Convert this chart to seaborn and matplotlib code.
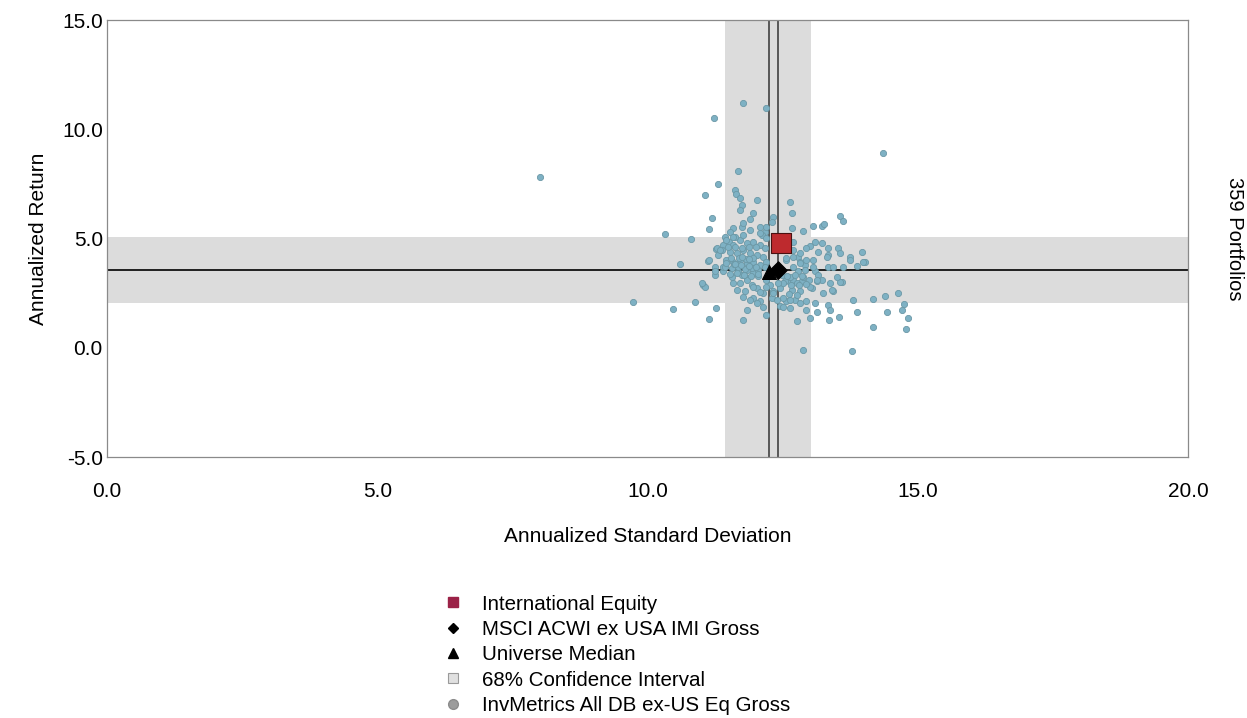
import matplotlib
matplotlib.use("Agg")
import matplotlib.pyplot as plt
from matplotlib.lines import Line2D
import seaborn as sns
import pandas as pd

# Universe of portfolios: annualized standard deviation and return
universe_sd = [
    8.02, 11.23, 11.77, 12.20, 14.35, 11.67, 11.31, 11.62, 11.64, 11.06,
    11.71, 11.74, 12.03, 12.64, 12.67, 11.20, 11.14, 13.56, 13.62, 13.22,
    13.07, 13.27, 10.32, 10.80, 11.26, 10.60, 11.11, 11.25, 11.25, 11.02,
    11.06, 9.74, 10.48, 10.87, 11.27, 11.13, 12.88, 13.78, 11.77, 11.84,
    12.20,
    14.78, 14.82, 14.70, 14.75, 14.64, 14.44, 14.18, 14.17, 13.88, 13.55,
    13.35, 14.39, 13.81, 13.34, 13.01, 13.13, 12.76, 12.64, 12.57, 13.38,
    12.67, 12.88, 13.10, 13.01, 12.94, 13.22, 13.34, 13.34, 13.53, 13.16,
    13.75, 13.96, 14.02, 12.70, 12.79, 12.82, 12.91, 13.07, 13.34, 13.62,
    13.87,
    12.79, 12.91, 13.10, 13.16, 12.61, 12.70, 12.85, 12.98, 13.13, 13.22,
    13.59, 12.67, 12.82, 13.04, 13.44, 12.73, 12.94, 13.10,
    13.56, 13.75, 13.99, 13.56, 13.41,
    11.00, 11.25, 11.40, 11.59, 11.74, 11.84, 11.93, 11.80, 11.96, 12.02,
    12.14, 12.08, 12.27, 12.33, 12.30, 12.45, 12.51, 12.45, 11.68, 11.84,
    11.96, 12.05, 12.20, 12.54,
    11.90, 11.74, 12.08, 12.33, 12.30, 11.59, 11.53, 12.17, 11.43, 11.28,
    11.13,
    11.40, 11.50, 11.59, 11.71, 11.84, 11.96, 12.08, 12.17, 11.53, 11.65,
    11.77, 11.90, 12.02, 12.14, 11.46, 11.59, 11.71, 11.84, 11.96, 12.08,
    12.20, 11.40, 11.56, 11.68, 11.80, 11.93, 12.05, 12.17, 11.30, 11.37,
    11.62, 11.77, 12.11, 12.20,
    11.34, 11.46, 11.59, 11.43, 11.56, 11.71, 11.84, 11.96, 12.08, 12.20,
    11.65, 11.77, 11.90, 12.02, 12.14, 12.51, 12.64, 12.76, 12.88, 13.01,
    12.70, 12.82, 12.57, 12.70, 12.82, 12.94, 13.07, 13.13, 13.25, 13.38,
    13.50, 13.32, 13.44, 12.64, 12.82, 12.94, 12.51, 12.39, 12.33, 12.42,
    12.48, 12.08, 12.20, 11.90, 11.77, 11.71, 11.96,
    12.60, 12.69, 12.56,
    11.49, 11.62, 11.75, 11.88, 12.00, 11.55, 11.69, 11.82, 11.95, 11.45,
    11.60, 11.73, 11.87, 12.00, 11.52, 11.66, 11.79, 11.92, 12.05, 11.62,
    11.75, 11.88, 12.58, 12.72, 12.86, 12.66, 12.80, 12.93, 12.62, 12.76,
]
universe_ret = [
    7.80, 10.50, 11.19, 10.96, 8.93, 8.10, 7.49, 7.22, 7.05, 6.98,
    6.85, 6.53, 6.76, 6.68, 6.15, 5.92, 5.45, 6.03, 5.81, 5.59,
    5.59, 5.65, 5.21, 4.98, 4.52, 3.82, 3.97, 3.68, 3.33, 2.87,
    2.77, 2.11, 1.77, 2.11, 1.80, 1.30, -0.10, -0.13, 1.28, 1.74,
    1.51,
    0.84, 1.35, 1.73, 2.00, 2.52, 1.65, 2.22, 0.94, 1.65, 1.42,
    1.27, 2.35, 2.17, 1.97, 1.36, 1.64, 1.21, 1.82, 2.13, 1.73,
    5.47, 5.36, 4.85, 4.67, 4.55, 4.78, 4.55, 4.24, 4.58, 4.37,
    4.17, 4.40, 3.94, 4.85, 4.17, 3.94, 3.79, 4.02, 3.71, 3.71,
    3.76,
    3.50, 3.57, 3.50, 3.34, 3.04, 3.11, 3.04, 3.11, 3.04, 3.11,
    3.01, 2.66, 2.58, 2.73, 2.58, 2.20, 2.13, 2.05,
    4.32, 4.02, 3.94, 3.02, 2.64,
    2.96, 3.50, 3.50, 2.96, 3.34, 3.19, 2.89, 2.58, 2.28, 2.73,
    2.51, 2.13, 2.89, 2.58, 2.28, 2.73, 2.28, 1.90, 3.50, 3.57,
    3.42, 3.27, 3.11, 3.04,
    5.89, 5.54, 5.54, 6.00, 5.77, 5.47, 5.31, 5.31, 5.08, 4.55,
    4.02,
    4.70, 4.85, 4.70, 4.93, 4.78, 4.85, 4.70, 4.55, 4.40, 4.32,
    4.47, 4.32, 4.24, 4.17, 4.02, 3.94, 4.02, 3.86, 3.94, 3.79,
    3.94, 3.71, 3.64, 3.71, 3.60, 3.64, 3.56, 3.71, 4.24, 4.47,
    5.08, 5.16, 5.16, 5.01,
    4.47, 4.93, 5.08, 3.71, 3.25, 2.95, 3.10, 2.80, 2.57, 2.80,
    2.64, 2.34, 2.19, 2.03, 1.88, 2.95, 3.25, 2.95, 3.25, 2.80,
    3.71, 3.86, 4.02, 4.17, 4.32, 4.02, 3.71, 3.10, 2.49, 2.95,
    3.25, 4.17, 3.71, 2.19, 2.03, 1.73, 1.88, 2.19, 2.49, 2.95,
    3.33, 5.24, 5.54, 5.39, 5.70, 6.30, 6.15,
    5.11, 4.47, 4.11,
    4.60, 4.62, 4.58, 4.63, 4.60, 4.10, 4.12, 4.08, 4.10, 3.88,
    3.85, 3.80, 3.75, 3.68, 3.38, 3.40, 3.35, 3.30, 3.38, 3.85,
    4.15, 4.05, 3.30, 3.35, 3.30, 2.88, 2.85, 2.90, 2.45, 2.40,
]

# Highlighted series
fund_sd, fund_ret = [12.47], [4.79]            # International Equity
index_sd, index_ret = [12.42], [3.58]          # MSCI ACWI ex USA IMI Gross
median_sd, median_ret = [12.25], [3.48]        # Universe Median

# Cross-hair reference lines and 68% confidence bands
vline_sd = [12.24, 12.41]
hline_ret = [3.55]
ci_sd = (11.43, 13.02)
ci_ret = (2.05, 5.07)

x_ticks = [0.0, 5.0, 10.0, 15.0, 20.0]
y_ticks = [-5.0, 0.0, 5.0, 10.0, 15.0]

legend_labels = [
    "International Equity",
    "MSCI ACWI ex USA IMI Gross",
    "Universe Median",
    "68% Confidence Interval",
    "InvMetrics All DB ex-US Eq Gross",
]
portfolio_count_label = "359 Portfolios"

sns.set_style("white")
plt.rcParams["font.family"] = ["Liberation Sans", "DejaVu Sans"]
plt.rcParams["text.color"] = "black"
plt.rcParams["axes.labelcolor"] = "black"
plt.rcParams["xtick.labelcolor"] = "black"
plt.rcParams["ytick.labelcolor"] = "black"

fig = plt.figure(figsize=(12.47, 7.18), dpi=100)
ax = fig.add_axes([0.0858, 0.3635, 0.8669, 0.6086])

band_color = "#DCDCDC"
ax.axvspan(*ci_sd, color=band_color, lw=0, zorder=0)
ax.axhspan(*ci_ret, color=band_color, lw=0, zorder=0)
for v in vline_sd:
    ax.axvline(v, color="#333333", lw=1.1, zorder=1)
for h in hline_ret:
    ax.axhline(h, color="#111111", lw=1.3, zorder=1)

universe = pd.DataFrame({"sd": universe_sd, "ret": universe_ret})
sns.scatterplot(data=universe, x="sd", y="ret", ax=ax, s=20,
                color="#7EB1C4", edgecolor="#6B98A6", linewidth=0.6,
                zorder=2, legend=False)

sns.scatterplot(x=median_sd, y=median_ret, ax=ax, marker="^", s=100,
                color="black", edgecolor="black", zorder=4, legend=False)
sns.scatterplot(x=index_sd, y=index_ret, ax=ax, marker="D", s=80,
                color="black", edgecolor="black", zorder=4, legend=False)
sns.scatterplot(x=fund_sd, y=fund_ret, ax=ax, marker="s", s=190,
                color="#BE2A2E", edgecolor="#4A1010", linewidth=0.8,
                zorder=5, legend=False)

ax.set_xlim(0, 20)
ax.set_ylim(-5, 15)
ax.set_xticks(x_ticks)
ax.set_yticks(y_ticks)
ax.set_xticklabels([f"{t:.1f}" for t in x_ticks])
ax.set_yticklabels([f"{t:.1f}" for t in y_ticks])
ax.tick_params(axis="x", direction="in", length=6, width=0.8,
               color="#808080", labelsize=15, pad=18)
ax.tick_params(axis="y", direction="in", length=10, width=0.8,
               color="#808080", labelsize=15, pad=3)
for sp in ax.spines.values():
    sp.set_visible(True)
    sp.set_color("#8A8A8A")
    sp.set_linewidth(0.9)

ax.set_xlabel("Annualized Standard Deviation", fontsize=15, labelpad=19)
ax.set_ylabel("Annualized Return", fontsize=15, labelpad=10)

ax.text(1.043, 0.5, portfolio_count_label, transform=ax.transAxes,
        rotation=270, ha="center", va="center", fontsize=14.5)

handles = [
    Line2D([], [], ls="none", marker="s", ms=7, mfc="#9B2247", mec="#9B2247"),
    Line2D([], [], ls="none", marker="D", ms=5.5, mfc="black", mec="black"),
    Line2D([], [], ls="none", marker="^", ms=7, mfc="black", mec="black"),
    Line2D([], [], ls="none", marker="s", ms=7, mfc="#E0E0E0", mec="#9A9A9A", mew=0.8),
    Line2D([], [], ls="none", marker="o", ms=7, mfc="#9C9C9C", mec="#8C8C8C"),
]
fig.legend(handles, legend_labels, loc="upper left",
           bbox_to_anchor=(0.357, 0.172), frameon=False, fontsize=14.8,
           handlelength=0.8, handletextpad=1.0, labelspacing=0.31,
           borderpad=0, borderaxespad=0)

fig.savefig("out.png", dpi=100)
